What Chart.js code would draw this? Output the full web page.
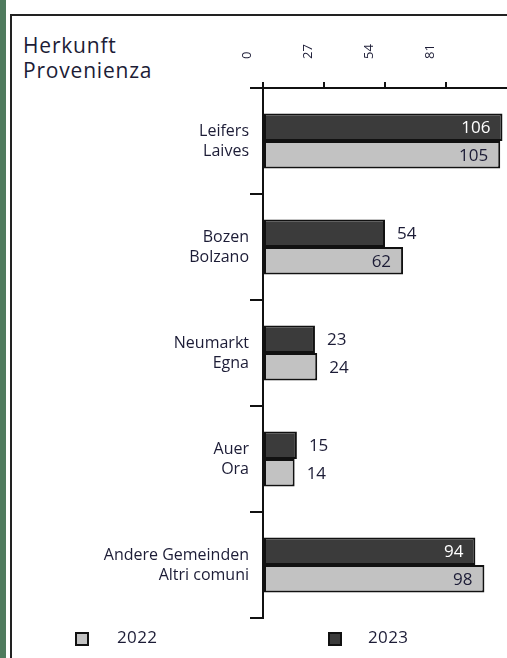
<!DOCTYPE html>
<html>
<head>
<meta charset="utf-8">
<script src="https://cdn.jsdelivr.net/npm/chart.js@4.4.1/dist/chart.umd.min.js"></script>
<style>
  html, body { margin: 0; padding: 0; background: #fff; }
  #wrap { position: relative; width: 507px; height: 658px; overflow: hidden; font-family: 'Open Sans', sans-serif; }
  #green { position: absolute; left: 0; top: 0; width: 6px; height: 658px; background: #4f7b5e; }
  #frame { position: absolute; left: 10px; top: 14px; width: 520px; height: 700px; border-left: 2px solid #222; border-top: 2px solid #222; }
  #title { position: absolute; left: 23px; top: 33px; font-size: 21px; line-height: 25px; letter-spacing: 0.8px; color: #1c1c36; }
  #box { position: absolute; left: 0; top: 0; width: 507px; height: 658px; }
  .leg-box { position: absolute; width: 10px; height: 10px; border: 2px solid #111; }
  .leg-txt { position: absolute; font-size: 17px; line-height: 20px; letter-spacing: 0.4px; color: #1c1c36; }
</style>
</head>
<body>
<div id="wrap">
  <div id="green"></div>
  <div id="frame"></div>
  <div id="title">Herkunft<br>Provenienza</div>
  <div id="box"><canvas id="myChart"></canvas></div>
  <div id="legend"></div>
</div>
<script>
// Datos del gráfico
const categorias = [
  ['Leifers', 'Laives'],
  ['Bozen', 'Bolzano'],
  ['Neumarkt', 'Egna'],
  ['Auer', 'Ora'],
  ['Andere Gemeinden', 'Altri comuni']
];
const valores2023 = [106, 54, 23, 15, 94];
const valores2022 = [105, 62, 24, 14, 98];
const ticksX = [0, 27, 54, 81];
const maxX = 108;

const colorOscuro = '#3b3b3b';
const colorClaro = '#c2c2c2';
const colorTexto = '#1c1c36';

// Etiquetas de valores sobre las barras
const etiquetasValores = {
  id: 'etiquetasValores',
  afterDatasetsDraw(chart) {
    const ctx = chart.ctx;
    ctx.save();
    ctx.font = '17px "Open Sans", sans-serif';
    ctx.textBaseline = 'middle';
    chart.data.datasets.forEach((ds, i) => {
      chart.getDatasetMeta(i).data.forEach((bar, j) => {
        const v = ds.data[j];
        if (v >= 60) {
          ctx.textAlign = 'right';
          ctx.fillStyle = ds.backgroundColor === colorOscuro ? '#ffffff' : colorTexto;
          ctx.fillText(String(v), bar.x - 12, bar.y + 1);
        } else {
          ctx.textAlign = 'left';
          ctx.fillStyle = colorTexto;
          ctx.fillText(String(v), bar.x + 12, bar.y + 1);
        }
      });
    });
    ctx.restore();
  }
};

const ctx = document.getElementById('myChart').getContext('2d');
const chart = new Chart(ctx, {
  type: 'bar',
  data: {
    labels: categorias,
    datasets: [
      {
        label: '2023',
        data: valores2023,
        backgroundColor: colorOscuro,
        borderColor: '#111',
        borderWidth: 2,
        borderSkipped: false,
        categoryPercentage: 0.52,
        barPercentage: 1
      },
      {
        label: '2022',
        data: valores2022,
        backgroundColor: colorClaro,
        borderColor: '#111',
        borderWidth: 2,
        borderSkipped: false,
        categoryPercentage: 0.52,
        barPercentage: 1
      }
    ]
  },
  options: {
    indexAxis: 'y',
    responsive: true,
    maintainAspectRatio: false,
    animation: false,
    layout: { padding: { top: 0, left: 0, right: 0, bottom: 40 } },
    plugins: {
      legend: { display: false },
      tooltip: { enabled: false }
    },
    scales: {
      x: {
        position: 'top',
        min: 0,
        max: maxX,
        afterBuildTicks: (s) => { s.ticks = ticksX.map(v => ({ value: v })); },
        afterFit: (s) => { s.height = 88; s.paddingLeft = 0; s.paddingRight = 0; },
        ticks: {
          minRotation: 90,
          maxRotation: 90,
          padding: 23,
          color: colorTexto,
          font: { family: '"Open Sans", sans-serif', size: 13 }
        },
        grid: { drawOnChartArea: false, tickLength: 6, color: '#111', lineWidth: 2 },
        border: { display: true, color: '#111', width: 2 }
      },
      y: {
        afterFit: (s) => { s.width = 263; s.paddingTop = 0; s.paddingBottom = 0; },
        ticks: {
          padding: 1,
          color: colorTexto,
          font: { family: '"Open Sans", sans-serif', size: 16, lineHeight: 1.25 }
        },
        grid: { drawOnChartArea: false, offset: true, tickLength: 13, color: '#111', lineWidth: 2 },
        border: { display: true, color: '#111', width: 2 }
      }
    }
  },
  plugins: [etiquetasValores]
});

// Leyenda en HTML (2022 primero, como en el original)
const leyenda = [
  { texto: '2022', color: colorClaro, caja: 75, txt: 117 },
  { texto: '2023', color: colorOscuro, caja: 328, txt: 368 }
];
const legendEl = document.getElementById('legend');
leyenda.forEach(item => {
  const b = document.createElement('div');
  b.className = 'leg-box';
  b.style.left = item.caja + 'px';
  b.style.top = '632px';
  b.style.background = item.color;
  legendEl.appendChild(b);
  const t = document.createElement('div');
  t.className = 'leg-txt';
  t.style.left = item.txt + 'px';
  t.style.top = '627px';
  t.textContent = item.texto;
  legendEl.appendChild(t);
});
</script>
</body>
</html>
